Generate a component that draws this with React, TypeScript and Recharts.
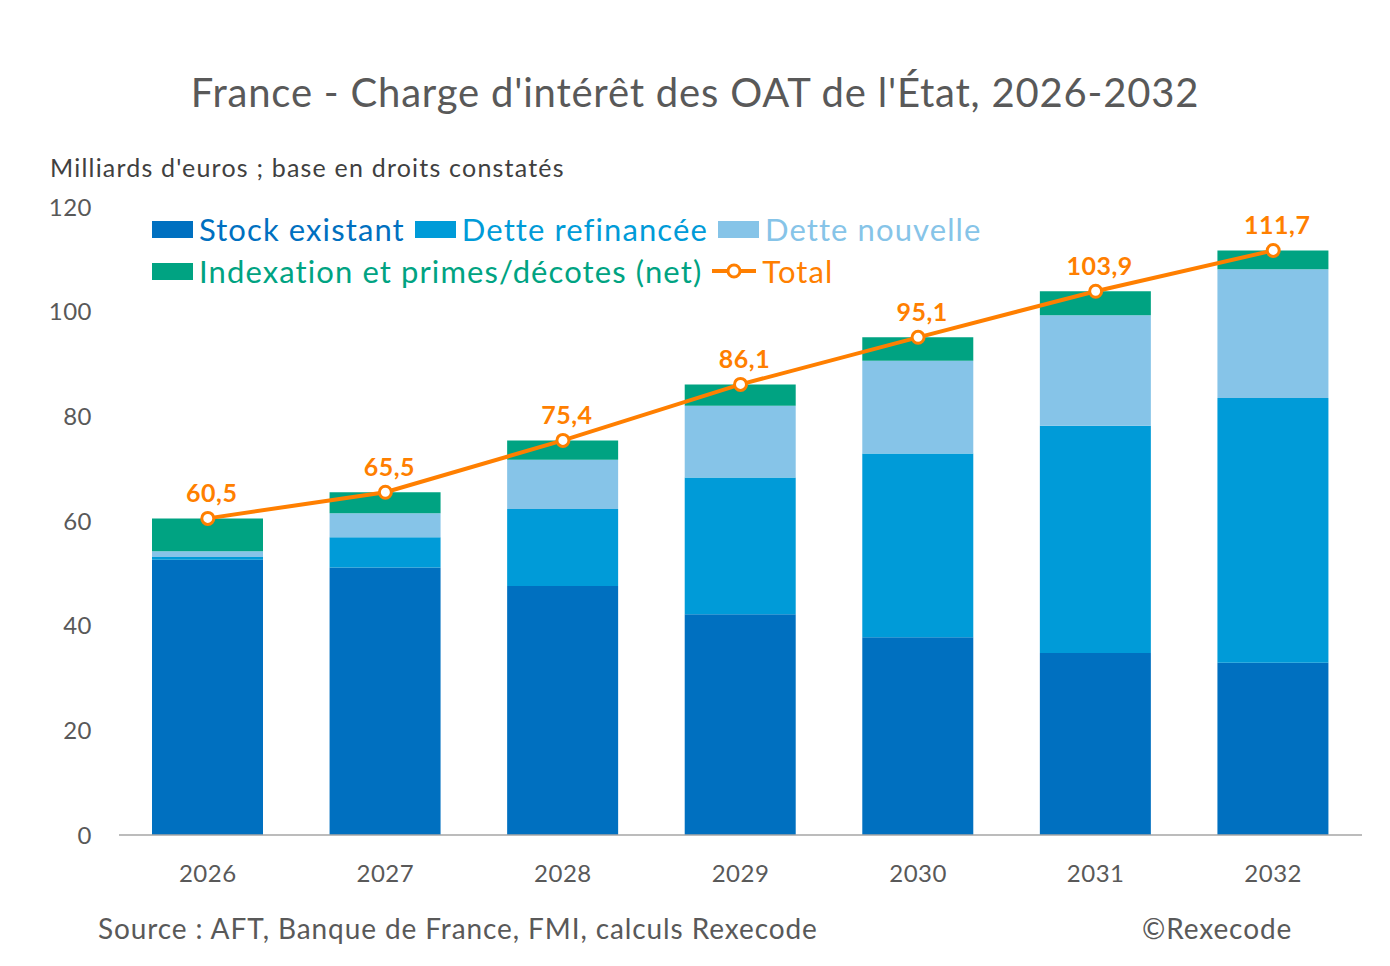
import React from 'react';
import { ComposedChart, Bar, Line, XAxis, YAxis, LabelList } from 'recharts';

const years = ['2026', '2027', '2028', '2029', '2030', '2031', '2032'];
const stockExistant = [52.6, 51.1, 47.6, 42.2, 37.8, 34.8, 32.9];
const detteRefinancee = [0.5, 5.8, 14.7, 26.1, 35.1, 43.4, 50.6];
const detteNouvelle = [1.1, 4.6, 9.4, 13.7, 17.7, 21.1, 24.6];
const indexation = [6.3, 4.0, 3.7, 4.1, 4.5, 4.6, 3.6];
const total = [60.5, 65.5, 75.4, 86.1, 95.1, 103.9, 111.7];
const yTicks = [0, 20, 40, 60, 80, 100, 120];

const C_STOCK = '#0070C0';
const C_REFI = '#009BD8';
const C_NOUV = '#86C4E8';
const C_INDEX = '#00A382';
const C_TOTAL = '#FF7F00';
const GREY = '#595959';
const FONT = 'Lato, "Open Sans", sans-serif';

const chartData = years.map((year, i) => ({
  year,
  stock: stockExistant[i],
  refi: detteRefinancee[i],
  nouv: detteNouvelle[i],
  index: indexation[i],
  total: total[i],
}));

const fmt = (v: number) => v.toFixed(1).replace('.', ',');

const Swatch = ({ color }: { color: string }) => (
  <span style={{ display: 'inline-block', width: 41, height: 17, background: color, marginRight: 6 }} />
);

const LegendItem = ({ color, label }: { color: string; label: string }) => (
  <span style={{ display: 'inline-flex', alignItems: 'center', marginRight: 10, color }}>
    <Swatch color={color} />
    {label}
  </span>
);

const App: React.FC = () => {
  return (
    <div style={{ position: 'absolute', left: 0, top: 0, width: 1390, height: 966, background: '#fff', fontFamily: FONT }}>
      <div style={{ position: 'absolute', top: 68, left: 0, width: 1390, textAlign: 'center', fontSize: 40, letterSpacing: 0.8, color: GREY, lineHeight: '48px' }}>
        France - Charge d'intérêt des OAT de l'État, 2026-2032
      </div>
      <div style={{ position: 'absolute', top: 152, left: 50, fontSize: 25, letterSpacing: 1.2, color: '#404040', lineHeight: '30px' }}>
        Milliards d'euros ; base en droits constatés
      </div>

      <ComposedChart
        width={1390}
        height={966}
        data={chartData}
        margin={{ top: 207, right: 28, bottom: 71, left: 0 }}
        barSize={111}
      >
        <XAxis
          dataKey="year"
          height={60}
          tickLine={false}
          tickSize={0}
          tickMargin={30}
          axisLine={{ stroke: '#A6A6A6', strokeWidth: 1.5 }}
          tick={{ fill: GREY, fontSize: 24, fontFamily: FONT, letterSpacing: 0.5 }}
        />
        <YAxis
          width={119}
          domain={[0, 120]}
          ticks={yTicks}
          axisLine={false}
          tickLine={false}
          tickSize={0}
          tickMargin={27}
          tick={{ fill: GREY, fontSize: 24, fontFamily: FONT, letterSpacing: 0.5 }}
        />
        <Bar dataKey="stock" stackId="a" fill={C_STOCK} isAnimationActive={false} />
        <Bar dataKey="refi" stackId="a" fill={C_REFI} isAnimationActive={false} />
        <Bar dataKey="nouv" stackId="a" fill={C_NOUV} isAnimationActive={false} />
        <Bar dataKey="index" stackId="a" fill={C_INDEX} isAnimationActive={false} />
        <Line
          dataKey="total"
          stroke={C_TOTAL}
          strokeWidth={4}
          dot={{ r: 6, fill: '#fff', stroke: C_TOTAL, strokeWidth: 3 }}
          isAnimationActive={false}
        >
          <LabelList
            dataKey="total"
            position="top"
            offset={16}
            formatter={(v: any) => fmt(Number(v))}
            style={{ fill: C_TOTAL, fontSize: 25, fontWeight: 700, fontFamily: FONT, letterSpacing: 0.5, transform: 'translateX(4px)' }}
          />
        </Line>
      </ComposedChart>

      <div style={{ position: 'absolute', top: 209, left: 152, fontSize: 31, letterSpacing: 1.1, lineHeight: '40px' }}>
        <div style={{ display: 'flex' }}>
          <LegendItem color={C_STOCK} label="Stock existant" />
          <LegendItem color={C_REFI} label="Dette refinancée" />
          <LegendItem color={C_NOUV} label="Dette nouvelle" />
        </div>
        <div style={{ display: 'flex', marginTop: 2 }}>
          <LegendItem color={C_INDEX} label="Indexation et primes/décotes (net)" />
          <span style={{ display: 'inline-flex', alignItems: 'center', color: C_TOTAL }}>
            <svg width={44} height={20} style={{ marginRight: 6 }}>
              <line x1={0} y1={10} x2={44} y2={10} stroke={C_TOTAL} strokeWidth={4} />
              <circle cx={22} cy={10} r={6} fill="#fff" stroke={C_TOTAL} strokeWidth={3} />
            </svg>
            Total
          </span>
        </div>
      </div>

      <div style={{ position: 'absolute', top: 911, left: 98, fontSize: 28, letterSpacing: 0.9, color: GREY, lineHeight: '34px' }}>
        Source : AFT, Banque de France, FMI, calculs Rexecode
      </div>
      <div style={{ position: 'absolute', top: 911, left: 1142, fontSize: 28, letterSpacing: 0.9, color: GREY, lineHeight: '34px' }}>
        ©Rexecode
      </div>
    </div>
  );
};

export default App;
